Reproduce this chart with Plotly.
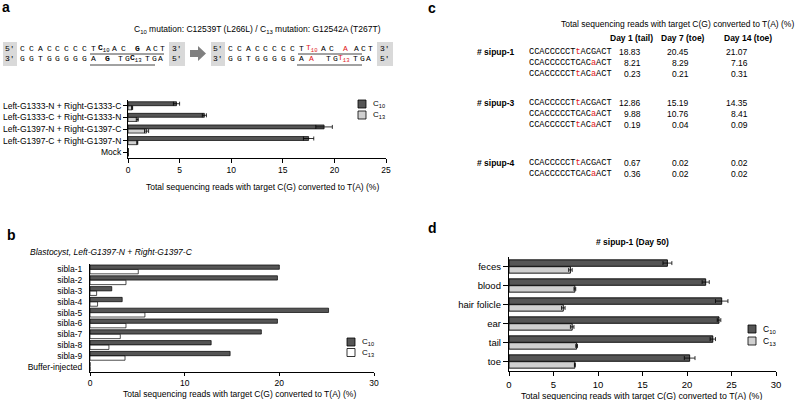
import plotly.graph_objects as go

# ---------------- data ----------------
a_categories = ["Left-G1333-N + Right-G1333-C", "Left-G1333-C + Right-G1333-N",
                "Left-G1397-N + Right-G1397-C", "Left-G1397-C + Right-G1397-N", "Mock"]
a_c10 = [4.7, 7.4, 19.0, 17.5, 0.0]
a_c10_err = [0.3, 0.2, 0.8, 0.5, 0.0]
a_c13 = [0.4, 0.9, 1.8, 0.9, 0.0]
a_c13_err = [0.05, 0.1, 0.2, 0.05, 0.0]
a_ticks = [0, 5, 10, 15, 20, 25]

b_categories = ["sibla-1", "sibla-2", "sibla-3", "sibla-4", "sibla-5", "sibla-6",
                "sibla-7", "sibla-8", "sibla-9", "Buffer-injected"]
b_c10 = [20.0, 19.8, 2.3, 3.4, 25.2, 19.8, 18.1, 12.8, 14.8, 0.0]
b_c13 = [5.1, 3.8, 0.7, 0.8, 5.8, 3.8, 3.2, 2.0, 3.7, 0.0]
b_ticks = [0, 10, 20, 30]

d_categories = ["feces", "blood", "hair folicle", "ear", "tail", "toe"]
d_c10 = [17.8, 22.1, 23.9, 23.6, 22.9, 20.3]
d_c10_err = [0.5, 0.4, 0.7, 0.2, 0.3, 0.6]
d_c13 = [6.9, 7.4, 6.1, 7.1, 7.6, 7.4]
d_c13_err = [0.2, 0.1, 0.2, 0.2, 0.1, 0.05]
d_ticks = [0, 5, 10, 15, 20, 25, 30]

c_days = ["Day 1 (tail)", "Day 7 (toe)", "Day 14 (toe)"]
c_samples = ["# sipup-1", "# sipup-3", "# sipup-4"]
c_sequences = [
    ["CCACCCCCT<r>t</r>ACGACT", "CCACCCCCTCAC<r>a</r>ACT", "CCACCCCCT<r>t</r>AC<r>a</r>ACT"],
    ["CCACCCCCT<r>t</r>ACGACT", "CCACCCCCTCAC<r>a</r>ACT", "CCACCCCCT<r>t</r>AC<r>a</r>ACT"],
    ["CCACCCCCT<r>t</r>ACGACT", "CCACCCCCTCAC<r>a</r>ACT"],
]
c_values = [
    [["18.83", "20.45", "21.07"], ["8.21", "8.29", "7.16"], ["0.23", "0.21", "0.31"]],
    [["12.86", "15.19", "14.35"], ["9.88", "10.76", "8.41"], ["0.19", "0.04", "0.09"]],
    [["0.67", "0.02", "0.02"], ["0.36", "0.02", "0.02"]],
]

XTITLE = "Total sequencing reads with target C(G) converted to T(A) (%)"
DARK = "#555555"
LIGHT = "#d0d0d0"
FONT = "Liberation Sans, Arial, sans-serif"
MONO = "Liberation Mono, Courier New, monospace"

W, H = 800, 400
def X(px): return px / W
def Y(py): return 1 - py / H

fig = go.Figure()

def add_bars(cats, v10, v13, e10, e13, xa, ya, c13color, bw, lw):
    fig.add_trace(go.Bar(y=cats, x=v10, orientation="h", xaxis=xa, yaxis=ya,
                         width=bw, offset=-bw - 0.01,
                         marker=dict(color=DARK, line=dict(color="black", width=lw)),
                         error_x=None if e10 is None else dict(type="data", array=e10, color="black", thickness=0.8, width=2),
                         showlegend=False))
    fig.add_trace(go.Bar(y=cats, x=v13, orientation="h", xaxis=xa, yaxis=ya,
                         width=bw, offset=0.01,
                         marker=dict(color=c13color, line=dict(color="black", width=lw)),
                         error_x=None if e13 is None else dict(type="data", array=e13, color="black", thickness=0.8, width=2),
                         showlegend=False))

add_bars(a_categories, a_c10, a_c13, a_c10_err, a_c13_err, "x", "y", LIGHT, 0.34, 0.7)
add_bars(b_categories, b_c10, b_c13, None, None, "x2", "y2", "white", 0.4, 0.7)
add_bars(d_categories, d_c10, d_c13, d_c10_err, d_c13_err, "x3", "y3", LIGHT, 0.34, 0.9)

tickfont_small = dict(family=FONT, size=8.5, color="black")
tickfont_d = dict(family=FONT, size=9.5, color="black")

layout = dict(
    width=W, height=H, margin=dict(l=0, r=0, t=0, b=0, autoexpand=False),
    paper_bgcolor="white", plot_bgcolor="white",
    barmode="overlay", font=dict(family=FONT, color="black"),
    xaxis=dict(domain=[X(128), X(386)], anchor="y", range=[0, 25], tickvals=a_ticks, automargin=False,
               showline=True, linecolor="black", linewidth=1, ticks="outside", ticklen=4,
               tickcolor="black", showgrid=False, zeroline=False, tickfont=tickfont_small),
    yaxis=dict(domain=[Y(158), Y(100)], anchor="x", categoryorder="array", categoryarray=a_categories,
               autorange="reversed", showline=True, linecolor="black", linewidth=1, automargin=False,
               ticks="outside", ticklen=4, tickcolor="black", showgrid=False, tickfont=tickfont_small),
    xaxis2=dict(domain=[X(90), X(374)], anchor="y2", range=[0, 30], tickvals=b_ticks, automargin=False,
                showline=True, linecolor="black", linewidth=1, ticks="outside", ticklen=3,
                tickcolor="black", showgrid=False, zeroline=False, tickfont=tickfont_small),
    yaxis2=dict(domain=[Y(372), Y(264)], anchor="x2", categoryorder="array", categoryarray=b_categories,
                autorange="reversed", showline=True, linecolor="black", linewidth=1, automargin=False,
                ticks="", ticklabelstandoff=5, showgrid=False, tickfont=tickfont_small),
    xaxis3=dict(domain=[X(509), X(776)], anchor="y3", range=[0, 30], tickvals=d_ticks, automargin=False,
                showline=True, linecolor="black", linewidth=1.3, ticks="outside", ticklen=4,
                tickcolor="black", tickwidth=1.3, showgrid=False, zeroline=False, tickfont=tickfont_d),
    yaxis3=dict(domain=[Y(371), Y(257)], anchor="x3", categoryorder="array", categoryarray=d_categories,
                autorange="reversed", showline=True, linecolor="black", linewidth=1.3, automargin=False,
                ticks="outside", ticklen=5, tickwidth=1.3, tickcolor="black", showgrid=False, tickfont=tickfont_d),
)
fig.update_layout(**layout)

ann = []
shapes = []

def text(px, py, s, size=8.5, anchor="center", family=FONT, color="black", valign="middle"):
    ann.append(dict(x=X(px), y=Y(py), xref="paper", yref="paper", text=s, showarrow=False,
                    xanchor=anchor, yanchor=valign, font=dict(family=family, size=size, color=color)))

def rect(x0, y0, x1, y1, fill, line="black", lw=0.8):
    shapes.append(dict(type="rect", xref="paper", yref="paper", x0=X(x0), x1=X(x1), y0=Y(y0), y1=Y(y1),
                       fillcolor=fill, line=dict(color=line, width=lw)))

def hline(x0, x1, y, color="#444444", lw=1):
    shapes.append(dict(type="line", xref="paper", yref="paper", x0=X(x0), x1=X(x1), y0=Y(y), y1=Y(y),
                       line=dict(color=color, width=lw)))

# panel letters
text(6, 7, "<b>a</b>", size=14)
text(432, 8, "<b>c</b>", size=14)
text(11, 235, "<b>b</b>", size=14)
text(432, 228, "<b>d</b>", size=14)

# ---------- panel a header & sequences ----------
text(257, 29, "C<sub>10</sub> mutation: C12539T (L266L) / C<sub>13</sub> mutation: G12542A (T267T)", size=8.5)

def seq_block(shift, top_tokens, bot_tokens, ul_top, ul_bot):
    rect(3 + shift, 42, 17 + shift, 66, "#d9d9d9", line="#d9d9d9", lw=0)
    rect(169 + shift, 42, 185 + shift, 66, "#d9d9d9", line="#d9d9d9", lw=0)
    text(10 + shift, 48, "5'", size=8, family=MONO)
    text(10 + shift, 59, "3'", size=8, family=MONO)
    text(177 + shift, 48, "3'", size=8, family=MONO)
    text(177 + shift, 59, "5'", size=8, family=MONO)
    for (s, x) in top_tokens:
        text(x + shift, 48, s, size=8, family=MONO)
    for (s, x) in bot_tokens:
        text(x + shift, 59, s, size=8, family=MONO)
    hline(ul_top[0], ul_top[1], 54)
    hline(ul_bot[0], ul_bot[1], 65)

base_x = [22.7 + i * 8.8 for i in range(9)]
top_left = list(zip(list("CCACCCCCT"), base_x)) + [
    ("<b>C</b><sub>10</sub>", 104), ("A", 115), ("C", 123), ("<b>G</b>", 137), ("A", 148), ("C", 155), ("T", 162)]
bot_left = list(zip(list("GGTGGGGGA"), base_x)) + [
    ("<b>G</b>", 107), ("T", 120), ("G", 127), ("<b>C</b><sub>13</sub>", 135.5), ("T", 147), ("G", 154), ("A", 160)]
seq_block(0, top_left, bot_left, (90, 164), (90, 155))

R = "<span style='color:#e0201b'>{}</span>"
top_right = list(zip(list("CCACCCCCT"), base_x)) + [
    (R.format("T<sub>10</sub>"), 104), ("A", 115), ("C", 123), (R.format("A"), 137), ("A", 148), ("C", 155), ("T", 162)]
bot_right = list(zip(list("GGTGGGGGA"), base_x)) + [
    (R.format("A"), 103), ("T", 120), ("G", 127), (R.format("T<sub>13</sub>"), 135.5), ("T", 147), ("G", 154), ("A", 160)]
seq_block(208, top_right, bot_right, (298, 362), (297, 362))

# grey arrow
shapes.append(dict(type="path", xref="paper", yref="paper",
                   path="M {} {} L {} {} L {} {} L {} {} L {} {} L {} {} L {} {} Z".format(
                       X(190), Y(50), X(198), Y(50), X(198), Y(46), X(206), Y(53.5),
                       X(198), Y(61), X(198), Y(57), X(190), Y(57)),
                   fillcolor="#808080", line=dict(width=0)))

# axis titles
text(262, 187, XTITLE, size=8.5)
text(239, 394, XTITLE, size=8.5)
text(641, 395.5, XTITLE, size=8.8)

# panel b title, panel d title
text(28, 252, "<i>Blastocyst, Left-G1397-N + Right-G1397-C</i>", size=8.5, anchor="left")
text(632, 242, "<b># sipup-1 (Day 50)</b>", size=8.5)

# legends
def legend(x, y1, y2, c13fill, size=8, sq=8):
    rect(x, y1 - sq / 2, x + sq, y1 + sq / 2, DARK)
    rect(x, y2 - sq / 2, x + sq, y2 + sq / 2, c13fill)
    text(x + sq + 5, y1, "C<sub>10</sub>", size=size, anchor="left")
    text(x + sq + 5, y2, "C<sub>13</sub>", size=size, anchor="left")

legend(358, 104, 115, LIGHT)
legend(347, 342, 352.5, "white")
legend(748, 329, 341, LIGHT, size=8.5)

# ---------- panel c table ----------
text(677, 24, XTITLE, size=8.5)
col_right = [643, 691, 750]
col_center = [631, 683, 748]
for d, cx in zip(c_days, col_center):
    text(cx, 38, "<b>{}</b>".format(d), size=8.5)
row_starts = [52.3, 103.3, 163.3]
row_step = 10.8
for si, sample in enumerate(c_samples):
    y0 = row_starts[si]
    text(496, y0, "<b>{}</b>".format(sample), size=8.5)
    for ri, seq in enumerate(c_sequences[si]):
        yy = y0 + ri * row_step
        s = seq.replace("<r>", "<span style='color:#e0201b'>").replace("</r>", "</span>")
        text(527, yy, s, size=8.6, family=MONO, anchor="left")
        for ci, v in enumerate(c_values[si][ri]):
            text(col_right[ci], yy, v, size=8.5, anchor="right")

fig.update_layout(annotations=ann, shapes=shapes)
fig.write_html("out.html", config={"displayModeBar": False},
               post_script="document.body.style.margin='0px';document.body.style.padding='0px';")
